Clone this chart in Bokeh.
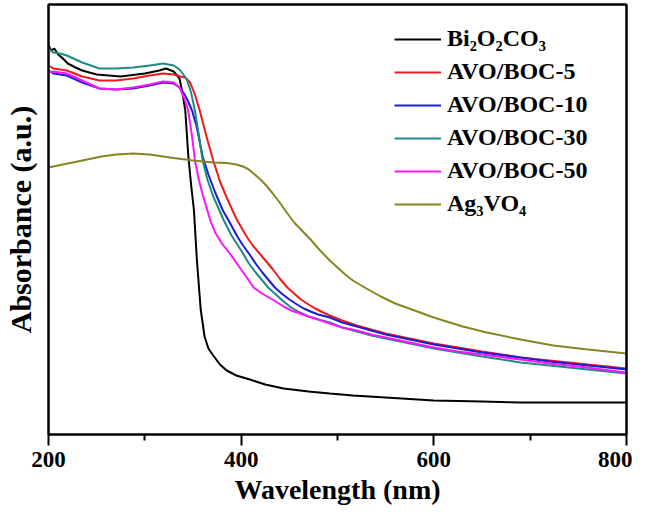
from bokeh.plotting import figure
from bokeh.models import Range1d, FixedTicker, Legend, LegendItem, LinearAxis
from bokeh.embed import file_html
from bokeh.resources import INLINE

# ---- data ----
boc_x = [200, 203, 206, 210, 215, 220, 228, 235, 250, 275, 300, 315, 322, 330, 336, 339, 342, 345, 348, 351,
         354, 358, 362, 366, 371, 378, 385, 395, 409, 425, 444, 470, 492, 516, 550, 600, 650, 690, 750, 800]
boc_y = [3.89, 3.84, 3.86, 3.80, 3.76, 3.71, 3.67, 3.64, 3.60, 3.58, 3.61, 3.64, 3.66, 3.63, 3.56, 3.42, 3.24,
         2.80, 2.50, 2.24, 1.75, 1.25, 0.98, 0.86, 0.79, 0.70, 0.64, 0.59, 0.55, 0.50, 0.46, 0.43, 0.41, 0.39,
         0.37, 0.34, 0.33, 0.32, 0.32, 0.32]

avo5_x = [200, 205, 212, 219, 235, 253, 270, 288, 305, 319, 330, 337, 342, 347, 352, 357, 364, 371, 378, 385,
          391, 396, 405, 412, 420, 427, 433, 440, 448, 455, 462, 470, 477, 485, 492, 505, 520, 535, 550, 575,
          600, 625, 650, 690, 720, 750, 800]
avo5_y = [3.69, 3.66, 3.65, 3.64, 3.58, 3.54, 3.54, 3.56, 3.59, 3.61, 3.60, 3.58, 3.57, 3.52, 3.40, 3.24, 2.98,
          2.74, 2.53, 2.37, 2.24, 2.14, 1.99, 1.89, 1.80, 1.72, 1.65, 1.56, 1.47, 1.41, 1.35, 1.30, 1.26, 1.22,
          1.19, 1.14, 1.09, 1.05, 1.01, 0.96, 0.91, 0.87, 0.83, 0.77, 0.74, 0.71, 0.66]

avo10_x = [200, 205, 212, 219, 235, 253, 270, 288, 305, 319, 330, 336, 340, 344, 349, 354, 360, 366, 373, 381,
           387, 396, 402, 408, 415, 422, 435, 442, 450, 458, 465, 472, 480, 492, 505, 520, 535, 550, 575, 600,
           625, 650, 690, 720, 750, 800]
avo10_y = [3.64, 3.61, 3.60, 3.59, 3.52, 3.46, 3.45, 3.46, 3.49, 3.52, 3.51, 3.47, 3.42, 3.35, 3.24, 3.07, 2.78,
           2.60, 2.42, 2.24, 2.14, 1.98, 1.89, 1.81, 1.71, 1.62, 1.47, 1.41, 1.35, 1.30, 1.26, 1.23, 1.20, 1.17,
           1.12, 1.08, 1.04, 1.00, 0.95, 0.90, 0.86, 0.82, 0.77, 0.73, 0.70, 0.65]

avo30_x = [200, 205, 212, 219, 235, 253, 270, 288, 305, 319, 330, 336, 340, 344, 348, 352, 356, 360, 365, 371,
           378, 382, 390, 396, 402, 408, 415, 422, 428, 436, 444, 452, 461, 470, 480, 492, 505, 520, 535, 550,
           575, 600, 625, 650, 690, 720, 750, 800]
avo30_y = [3.86, 3.82, 3.81, 3.79, 3.72, 3.66, 3.66, 3.67, 3.69, 3.71, 3.69, 3.65, 3.60, 3.54, 3.42, 3.24, 3.00,
           2.74, 2.55, 2.38, 2.23, 2.14, 1.99, 1.90, 1.81, 1.71, 1.62, 1.54, 1.47, 1.40, 1.33, 1.27, 1.22, 1.18,
           1.15, 1.12, 1.07, 1.03, 0.99, 0.96, 0.91, 0.86, 0.82, 0.78, 0.72, 0.69, 0.66, 0.61]

avo50_x = [200, 205, 212, 219, 235, 253, 270, 288, 305, 319, 330, 336, 341, 345, 349, 352, 356, 360, 365, 368,
           373, 380, 389, 400, 413, 420, 427, 436, 444, 452, 461, 470, 477, 492, 505, 520, 535, 550, 575, 600,
           625, 650, 690, 720, 750, 800]
avo50_y = [3.62, 3.63, 3.62, 3.61, 3.54, 3.46, 3.45, 3.47, 3.50, 3.53, 3.52, 3.47, 3.36, 3.24, 2.98, 2.74, 2.55,
           2.40, 2.24, 2.14, 2.02, 1.91, 1.80, 1.65, 1.47, 1.42, 1.38, 1.33, 1.28, 1.24, 1.21, 1.18, 1.16, 1.11,
           1.07, 1.04, 1.00, 0.97, 0.92, 0.87, 0.83, 0.80, 0.75, 0.71, 0.68, 0.62]

agvo_x = [200, 210, 225, 240, 255, 270, 288, 305, 326, 350, 371, 385, 395, 402, 408, 414, 420, 426, 432, 440,
          448, 456, 464, 472, 482, 492, 500, 508, 516, 530, 545, 560, 580, 600, 630, 655, 690, 724, 760, 800]
agvo_y = [2.67, 2.69, 2.72, 2.75, 2.78, 2.80, 2.81, 2.80, 2.77, 2.74, 2.72, 2.715, 2.70, 2.68, 2.65, 2.60, 2.55,
          2.49, 2.42, 2.32, 2.21, 2.11, 2.03, 1.95, 1.84, 1.74, 1.67, 1.60, 1.54, 1.46, 1.38, 1.31, 1.24, 1.17,
          1.08, 1.02, 0.95, 0.89, 0.85, 0.81]

series = [
    ("Bi\u2082O\u2082CO\u2083", boc_x, boc_y, "#000000"),
    ("AVO/BOC-5", avo5_x, avo5_y, "#f01a1a"),
    ("AVO/BOC-10", avo10_x, avo10_y, "#1c1cd2"),
    ("AVO/BOC-30", avo30_x, avo30_y, "#1f8a84"),
    ("AVO/BOC-50", avo50_x, avo50_y, "#ff14ff"),
    ("Ag\u2083VO\u2084", agvo_x, agvo_y, "#868620"),
]

x_ticks = [200, 400, 600, 800]
x_minor = [300, 500, 700]

FONT = "Liberation Serif"

p = figure(width=632, height=510, output_backend="svg", toolbar_location=None,
           x_range=Range1d(200, 800), y_range=Range1d(0, 4.30),
           min_border_left=48, min_border_right=6, min_border_top=4, min_border_bottom=76)
p.background_fill_color = "white"
p.border_fill_color = "white"
p.grid.visible = False
p.outline_line_color = "black"
p.outline_line_width = 2

items = []
for name, xs, ys, col in series:
    r = p.line(xs, ys, line_color=col, line_width=2)
    items.append(LegendItem(label=name, renderers=[r]))

# x axis
xa = p.xaxis[0]
xa.ticker = FixedTicker(ticks=x_ticks, minor_ticks=x_minor)
xa.axis_line_width = 2
xa.major_tick_line_width = 2
xa.minor_tick_line_width = 2
xa.major_tick_out = 11
xa.major_tick_in = 0
xa.minor_tick_out = 6
xa.minor_tick_in = 0
xa.major_label_text_font = FONT
xa.major_label_text_font_style = "bold"
xa.major_label_text_font_size = "23px"
xa.major_label_text_color = "black"
xa.major_label_standoff = 6
xa.axis_label = "Wavelength (nm)"
xa.axis_label_text_font = FONT
xa.axis_label_text_font_style = "bold"
xa.axis_label_text_font_size = "28px"
xa.axis_label_text_color = "black"
xa.axis_label_standoff = 4

# y axis (no ticks)
ya = p.yaxis[0]
ya.ticker = FixedTicker(ticks=[])
ya.axis_line_width = 2
ya.major_tick_out = 0
ya.major_tick_in = 0
ya.minor_tick_out = 0
ya.minor_tick_in = 0
ya.major_label_text_font_size = "0px"
ya.axis_label = "Absorbance (a.u.)"
ya.axis_label_text_font = FONT
ya.axis_label_text_font_style = "bold"
ya.axis_label_text_font_size = "30px"
ya.axis_label_text_color = "black"
ya.axis_label_standoff = 12

# plain frame lines on the top and right sides
for side in ("above", "right"):
    ax = LinearAxis(ticker=FixedTicker(ticks=[]), axis_line_width=2, axis_line_color="black",
                    major_tick_out=0, major_tick_in=0, minor_tick_out=0, minor_tick_in=0,
                    major_label_text_font_size="0px", major_label_standoff=0, axis_label_standoff=0)
    p.add_layout(ax, side)

legend = Legend(items=items, location=(346, 217), orientation="vertical",
                label_text_font=FONT, label_text_font_style="bold", label_text_font_size="24px",
                label_text_color="black", glyph_width=47, glyph_height=26, label_height=26,
                label_standoff=6, spacing=6, padding=0, margin=0,
                border_line_color=None, background_fill_alpha=0)
p.add_layout(legend, "center")

open("out.html", "w").write(file_html(p, INLINE))
